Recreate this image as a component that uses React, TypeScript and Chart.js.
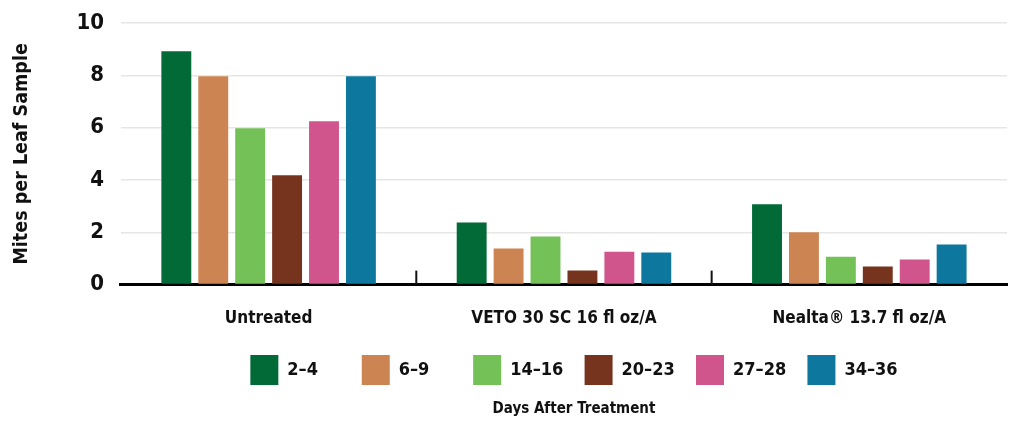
import React, { useEffect, useRef } from "react";
import { Chart, registerables } from "chart.js";

Chart.register(...registerables);

const categories = ["Untreated", "VETO 30 SC 16 fl oz/A", "Nealta® 13.7 fl oz/A"];
const seriesLabels = ["2–4", "6–9", "14–16", "20–23", "27–28", "34–36"];
const seriesColors = ["#026a37", "#cd8453", "#74c157", "#76341f", "#cf558c", "#0e779d"];
const d2_4 = [8.93, 2.38, 3.07];
const d6_9 = [7.97, 1.38, 2.0];
const d14_16 = [5.98, 1.84, 1.07];
const d20_23 = [4.18, 0.54, 0.69];
const d27_28 = [6.25, 1.26, 0.96];
const d34_36 = [7.97, 1.23, 1.53];
const seriesValues = [d2_4, d6_9, d14_16, d20_23, d27_28, d34_36];
const yTicks = [0, 2, 4, 6, 8, 10];

const FONT = "'DejaVu Sans Condensed', 'DejaVu Sans', sans-serif";
const LEGEND_SIZE = 18;
const LEGEND_TEXT_W = 64;
const BOTTOM_SHIFT = 10;

const boundaryTicks = {
  id: "boundaryTicks",
  afterLayout(chart: any) {
    const boxes = [chart.legend, chart.titleBlock];
    boxes.forEach((b: any) => {
      if (b) {
        b.left += BOTTOM_SHIFT;
        b.right += BOTTOM_SHIFT;
      }
    });
  },
  afterDatasetsDraw(chart: any) {
    const x = chart.scales.x;
    const y = chart.scales.y;
    const ctx = chart.ctx;
    const bottom = y.getPixelForValue(0);
    ctx.save();
    ctx.strokeStyle = "#111";
    ctx.lineWidth = 2;
    for (let i = 1; i < categories.length; i++) {
      const px = (x.getPixelForValue(i - 1) + x.getPixelForValue(i)) / 2;
      ctx.beginPath();
      ctx.moveTo(px, bottom - 14);
      ctx.lineTo(px, bottom);
      ctx.stroke();
    }
    ctx.restore();
  },
};

function padLabel(text: string, last: boolean): string {
  if (last) return text;
  const c = document.createElement("canvas").getContext("2d");
  if (!c) return text;
  c.font = `bold ${LEGEND_SIZE}px ${FONT}`;
  let t = text;
  let guard = 0;
  while (c.measureText(t).width < LEGEND_TEXT_W && guard < 60) {
    t += "\u200A";
    guard++;
  }
  return t;
}

export default function App() {
  const ref = useRef<HTMLCanvasElement | null>(null);
  useEffect(() => {
    document.body.style.margin = "0";
    if (!ref.current) return;
    const chart = new Chart(ref.current, {
      type: "bar",
      data: {
        labels: categories,
        datasets: seriesLabels.map((lab, i) => ({
          label: lab,
          data: seriesValues[i],
          backgroundColor: seriesColors[i],
          borderWidth: 0,
          barPercentage: 0.81,
          categoryPercentage: 0.75,
        })),
      },
      plugins: [boundaryTicks],
      options: {
        animation: false,
        responsive: false,
        maintainAspectRatio: false,
        layout: { padding: { top: 0, right: 8, left: 10, bottom: 3 } },
        plugins: {
          tooltip: { enabled: false },
          legend: {
            position: "bottom",
            fullSize: false,
            labels: {
              boxWidth: 28,
              boxHeight: 30,
              padding: 10,
              color: "#111",
              font: { family: FONT, size: LEGEND_SIZE, weight: "bold" },
              generateLabels: (ch: any) => {
                const base = Chart.defaults.plugins.legend.labels.generateLabels(ch);
                return base.map((it: any, i: number) => ({
                  ...it,
                  text: padLabel(it.text, i === base.length - 1),
                }));
              },
            },
          },
          title: {
            display: true,
            position: "bottom",
            fullSize: false,
            text: "Days After Treatment",
            color: "#111",
            padding: { top: 5, bottom: 0 },
            font: { family: FONT, size: 15, weight: "bold" },
          },
        },
        scales: {
          x: {
            grid: { display: false },
            border: { display: true, color: "#000", width: 3 },
            ticks: {
              color: "#111",
              padding: 16,
              font: { family: FONT, size: 17, weight: "bold" },
            },
          },
          y: {
            min: 0,
            max: 10,
            afterBuildTicks: (scale: any) => {
              const t: any[] = [];
              for (let v = 0; v <= 10; v++) t.push({ value: v });
              scale.ticks = t;
            },
            afterFit: (scale: any) => {
              scale.paddingTop = Math.max(0, scale.paddingTop - 7);
            },
            grid: { color: "#e6e6e6", lineWidth: 1.5, drawTicks: false },
            border: { display: false },
            ticks: {
              color: "#111",
              padding: 17,
              font: { family: FONT, size: 22, weight: "bold" },
              callback: (v: any) => (yTicks.includes(Number(v)) ? String(v) : ""),
            },
            title: {
              display: true,
              text: "Mites per Leaf Sample",
              color: "#111",
              padding: { top: 0, bottom: 26 },
              font: { family: FONT, size: 19.5, weight: "bold" },
            },
          },
        },
      },
    });
    return () => chart.destroy();
  }, []);
  return (
    <div style={{ width: 1015, height: 421 }}>
      <canvas ref={ref} width={1015} height={421} style={{ display: "block" }} />
    </div>
  );
}
